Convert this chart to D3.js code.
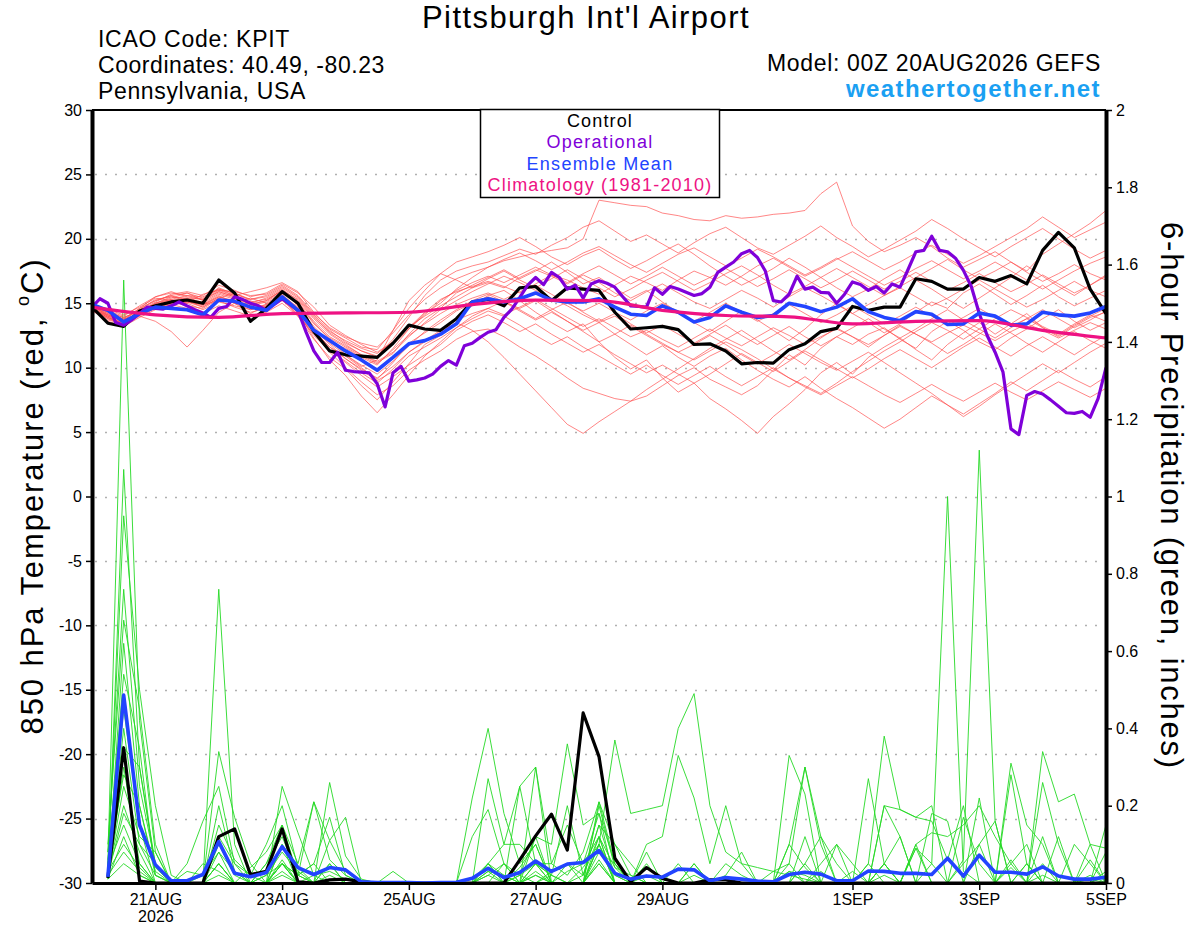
<!DOCTYPE html>
<html>
<head>
<meta charset="utf-8">
<script src="https://cdn.jsdelivr.net/npm/d3@7"></script>
<style>
html, body { margin: 0; padding: 0; background: #fff; }
svg { display: block; font-family: "Liberation Sans", Arial, Helvetica, sans-serif; }
</style>
</head>
<body>
<svg id="chart" width="1200" height="927"></svg>
<script>
"use strict";

//
// Data (00Z 20AUG2026 GEFS run, KPIT)
//
var runStart = new Date(Date.UTC(2026, 7, 20, 0));
var runEnd = new Date(Date.UTC(2026, 8, 5, 0));

var tempTicks = [-30, -25, -20, -15, -10, -5, 0, 5, 10, 15, 20, 25, 30];
var prcpTicks = [0, 0.2, 0.4, 0.6, 0.8, 1, 1.2, 1.4, 1.6, 1.8, 2];
var dateTicks = ["2026-08-21", "2026-08-23", "2026-08-25", "2026-08-27", "2026-08-29", "2026-09-01", "2026-09-03", "2026-09-05"];
var dateLabels = ["21AUG", "23AUG", "25AUG", "27AUG", "29AUG", "1SEP", "3SEP", "5SEP"];

// 850 hPa temperature, 6-hourly from 00Z 20AUG (65 values)
var controlTemp = [14.7,13.45,13.2,14.4,14.8,15.1,15.25,15.0,16.8,15.8,13.6,14.6,15.9,15.0,12.8,11.3,11.0,10.9,10.8,11.9,
  13.3,13.0,12.9,13.8,15.1,15.3,14.8,16.2,16.3,15.2,16.2,16.1,16.0,14.3,13.0,13.1,13.2,12.95,11.8,11.85,
  11.3,10.3,10.4,10.35,11.4,11.85,12.8,13.05,14.75,14.45,14.7,14.7,16.9,16.7,16.1,16.1,17.0,16.7,17.15,16.5,
  19.1,20.5,19.3,16.1,14.2];

var meanTemp = [14.9,14.45,13.55,14.2,14.7,14.6,14.5,14.1,15.25,15.15,14.7,14.45,15.5,14.45,12.9,12.1,11.3,10.6,9.8,10.8,
  11.85,12.1,12.6,13.4,15.1,15.35,15.1,15.35,15.8,15.25,15.1,15.1,15.35,14.7,14.15,14.05,14.8,14.3,13.55,13.9,
  14.8,14.3,13.9,14.05,15.0,14.75,14.35,14.7,15.35,14.35,13.9,13.65,14.35,14.15,13.35,13.4,14.25,14.0,13.3,13.4,
  14.3,14.1,14.0,14.25,14.75];

// operational run, 3-hourly (129 values)
var operationalTemp = [14.7,15.35,15.0,13.5,13.3,13.7,14.2,14.7,14.6,14.55,14.8,15.1,14.8,14.5,14.25,13.9,14.6,14.75,15.5,15.3,
  15.0,14.8,14.45,14.9,15.35,14.9,14.45,12.8,11.3,10.4,10.4,11.2,9.8,9.7,9.65,9.6,8.75,6.95,9.6,10.1,
  8.95,9.05,9.2,9.5,10.1,10.55,10.2,11.7,11.9,12.35,12.75,12.95,13.9,14.55,15.45,16.4,17.0,16.45,17.4,17.0,
  16.1,16.4,15.4,16.5,16.75,16.55,16.25,15.5,14.8,14.75,14.7,16.2,15.7,16.3,16.1,15.85,15.6,15.75,16.25,17.4,
  17.8,18.2,18.85,19.1,18.55,17.5,15.2,15.1,15.7,17.1,16.1,16.25,15.85,15.8,15.0,15.7,16.65,16.45,16.0,16.3,
  15.8,16.5,16.25,17.6,19.0,19.1,20.2,19.1,19.0,18.5,17.55,16.3,14.2,12.5,11.2,9.65,5.25,4.8,7.85,8.15,
  7.95,7.5,7.0,6.5,6.45,6.6,6.15,7.6,10.0];

// 1981-2010 climatology, daily at 00Z
var climTemp = [14.7,14.1,13.9,14.2,14.25,14.3,14.9,15.25,15.2,14.45,14.05,13.95,13.4,13.6,13.65,12.9,12.3];

// ensemble members, 6-hourly (65 values each)
var memberTemps = [
  [14.8,14.2,13.6,14.3,15.0,15.4,15.8,15.2,15.9,15.5,14.9,15.2,16.0, 14.8,13.2,12.0,11.5,10.8,10.2,11.5,13.0,14.2,15.0,16.1,17.0,17.8,
   18.3,18.6,18.9,19.1,19.3,20.0,23.0,22.8,22.6,22.5,22.0,21.8,21.5, 21.4,21.8,21.6,21.7,21.9,22.0,22.2,23.5,24.4,21.0,19.8,19.0,19.5,
   20.1,19.4,18.5,17.8,18.4,19.0,18.2,17.5,18.8,19.6,20.4,21.2,22.2],
  [14.6,13.9,13.4,14.1,14.6,15.0,15.3,14.9,15.6,15.0,14.2,14.8,15.5, 14.2,12.5,11.3,10.5,9.6,8.8,9.9,11.2,12.0,12.8,13.5,12.9,12.0,
   10.8,9.5,8.2,6.9,5.6,4.9,5.8,6.6,7.4,7.8,8.6,9.4,10.0, 9.1,8.5,7.9,8.6,9.8,11.0,10.2,11.5,12.4,11.8,12.6,13.1,12.2,
   11.5,12.8,13.6,12.9,12.0,11.4,12.3,13.0,13.8,14.5,13.6,12.9,13.5],
  [14.9,14.0,13.3,14.5,15.2,15.6,15.1,14.7,15.4,15.8,15.2,14.6,15.3, 14.0,12.2,10.8,9.9,8.6,7.5,8.9,10.3,11.8,12.5,13.9,14.8,15.6,
   16.0,15.2,14.3,13.5,12.8,13.4,12.0,10.8,9.9,10.6,9.2,8.1,8.8, 7.6,6.8,5.9,4.9,6.2,7.2,8.3,9.6,10.4,9.5,10.8,11.6,12.3,
   11.4,10.6,11.8,12.7,13.5,12.6,13.4,14.2,13.1,12.5,13.3,14.0,14.6],
  [14.5,14.1,13.8,14.0,13.6,12.8,11.6,12.9,14.3,15.0,15.4,15.0,15.8, 15.1,13.6,12.4,11.7,11.0,10.4,11.1,12.6,13.8,14.6,15.8,16.4,17.0,
   17.6,16.9,17.5,18.2,17.4,16.5,17.0,16.2,15.4,16.0,15.1,14.3,13.5, 12.8,13.6,14.4,13.7,12.9,12.1,13.0,14.1,15.0,14.2,13.5,12.7,13.4,
   14.3,15.1,14.6,15.8,16.5,15.7,14.9,15.6,16.4,15.5,14.8,15.4,16.0],
  [14.7,14.4,13.7,14.6,15.5,15.9,15.5,15.3,16.2,15.7,15.3,15.6,16.3, 15.5,14.1,12.9,12.0,11.3,10.9,12.2,13.9,15.6,16.8,17.5,17.9,18.2,
   18.7,19.2,18.8,19.5,20.1,20.9,21.4,20.6,19.8,20.3,19.6,18.9,19.7, 20.4,20.9,20.1,19.3,18.8,19.5,20.2,21.0,20.1,19.4,18.6,19.2,19.9,
   20.6,21.5,20.8,20.0,19.3,18.6,19.4,20.1,20.8,20.0,19.2,18.5,19.1],
  [14.6,13.8,13.5,14.2,14.9,15.3,15.0,14.5,15.1,14.8,14.5,14.9,15.7, 14.6,12.9,11.6,10.9,10.0,9.1,10.4,11.9,12.7,13.5,14.4,15.0,15.5,
   15.1,14.6,15.2,14.4,13.6,12.9,13.5,12.6,11.8,11.0,11.7,10.8,10.1, 10.9,11.5,10.6,9.8,9.1,8.5,9.3,8.4,7.6,6.9,6.1,5.3,6.0,
   6.9,7.8,7.1,6.4,7.2,8.0,8.9,8.2,9.0,9.8,9.1,8.5,9.3],
  [14.8,14.3,13.9,14.4,15.1,15.7,15.9,15.6,16.4,16.0,15.5,15.8,16.5, 15.8,14.7,13.3,12.5,11.8,11.2,12.0,13.2,14.0,14.8,15.5,16.2,16.6,
   16.2,17.0,17.6,17.1,16.5,17.2,16.6,15.8,15.2,15.9,16.5,15.8,15.1, 14.6,15.3,16.0,15.4,14.7,15.5,16.2,15.6,14.9,14.2,14.9,15.6,16.2,
   15.5,14.8,15.4,16.1,16.8,16.1,15.4,14.7,15.3,16.0,16.7,16.0,15.5],
  [14.5,13.6,13.2,13.9,14.5,14.9,14.6,14.2,14.8,14.4,14.0,14.3,15.0, 14.0,12.6,11.4,10.4,9.4,8.5,9.3,10.2,11.0,11.8,12.9,13.6,14.1,
   13.5,12.8,13.4,12.6,11.9,11.2,11.8,11.0,10.3,9.6,10.2,9.5,8.8, 9.5,10.3,11.1,10.4,9.7,10.5,11.3,10.6,9.9,9.2,9.9,10.7,11.4,
   10.7,10.0,10.8,11.6,12.3,11.6,10.9,11.7,12.4,11.7,11.0,11.8,12.5],
  [14.9,14.5,14.1,14.7,15.4,15.2,15.0,15.7,16.0,15.6,15.9,16.2,16.6, 15.9,14.3,13.0,12.3,11.6,11.4,12.9,14.6,16.0,17.3,18.2,18.6,19.0,
   19.5,20.1,19.4,18.6,18.0,18.7,19.2,18.4,17.7,18.3,19.0,19.6,18.8, 17.9,17.1,16.4,17.0,17.7,18.5,17.8,17.0,16.2,15.5,16.1,16.9,17.6,
   16.8,16.1,15.3,14.6,15.4,16.2,17.0,17.9,17.1,16.3,15.6,16.4,17.2],
  [14.4,13.7,13.4,14.1,14.8,15.1,14.8,14.6,15.3,15.1,14.7,14.5,15.2, 14.3,12.3,10.6,9.4,7.8,6.5,7.9,9.4,10.9,12.0,13.1,14.0,14.6,
   15.2,14.5,13.8,14.5,15.1,14.3,13.6,14.2,13.4,12.7,13.3,12.6,11.9, 12.6,13.3,12.5,11.8,12.5,13.2,12.4,11.7,12.4,13.1,13.8,13.0,12.3,
   13.0,13.8,14.5,13.7,13.0,12.3,13.1,13.8,13.1,12.4,13.2,13.9,14.3],
  [14.7,14.0,13.6,14.3,15.0,15.5,15.4,15.0,15.7,15.3,14.8,15.1,15.9, 15.0,13.5,12.2,11.0,10.1,10.6,12.9,15.2,16.4,17.3,16.8,16.2,16.9,
   17.5,16.8,16.2,16.9,17.6,16.9,16.2,15.5,16.1,16.8,17.4,16.7,16.0, 16.6,17.3,17.9,17.2,16.4,15.7,16.3,17.0,17.7,17.0,16.3,15.6,16.3,
   17.0,17.7,18.4,17.6,16.9,17.5,18.2,17.4,16.7,17.3,18.0,17.3,16.8],
  [14.6,13.9,13.4,14.2,14.7,15.1,15.2,14.8,15.5,15.2,14.6,14.7,15.4, 14.5,13.0,11.8,10.7,9.8,9.0,9.7,10.9,11.6,12.3,13.1,13.8,14.4,
   14.0,13.3,12.5,11.8,12.4,11.6,10.9,10.2,9.5,10.2,9.4,8.7,9.4, 10.1,9.3,8.6,9.3,10.0,9.2,8.5,7.9,8.6,9.3,8.6,7.9,7.3,
   8.0,8.7,8.0,7.4,8.1,8.8,8.1,7.5,8.2,8.9,8.3,7.7,8.4],
  [14.8,14.1,13.7,14.5,15.3,15.5,15.3,15.1,15.8,15.4,14.9,15.2,16.0, 15.0,13.4,12.3,11.6,10.9,10.3,11.4,12.5,13.4,14.2,14.9,15.4,15.8,
   15.3,15.9,16.4,15.7,15.0,14.4,15.0,14.3,13.7,14.4,15.0,14.3,13.6, 14.3,15.0,14.3,13.6,14.2,14.9,14.2,13.5,14.1,14.8,14.1,13.4,14.0,
   14.7,14.0,13.3,13.9,14.6,13.9,13.2,13.8,14.5,13.8,13.1,13.7,14.4],
  [14.7,14.2,13.8,14.6,15.2,15.6,15.8,15.4,16.1,15.8,15.3,15.5,16.2, 15.4,14.0,12.7,11.9,11.3,10.8,11.8,13.0,14.1,15.2,16.0,16.6,17.1,
   16.6,17.2,17.8,17.2,16.6,17.3,17.9,17.2,16.5,17.1,17.8,17.1,16.4, 17.0,17.7,17.0,16.3,16.9,17.6,16.9,16.2,16.8,17.5,16.8,16.1,16.7,
   17.4,16.7,16.0,16.6,17.3,16.6,15.9,16.5,17.2,16.5,15.8,16.4,17.1],
  [14.5,13.8,13.3,14.0,14.6,14.9,15.1,14.9,15.2,14.7,14.3,14.6,15.3, 14.1,12.7,11.2,10.0,8.9,7.9,8.6,9.8,10.6,11.3,12.2,12.8,13.0,
   12.4,11.6,10.9,10.1,9.2,8.4,8.0,7.6,7.4,8.3,9.1,9.9,10.7, 11.5,12.2,12.9,12.1,11.3,10.6,11.4,12.3,13.1,12.4,11.6,12.5,13.3,
   12.6,11.9,11.1,11.8,12.6,13.4,12.7,11.9,11.2,12.0,12.8,12.1,11.5],
  [14.8,14.3,13.9,14.4,15.0,15.3,15.6,15.5,16.1,15.6,15.0,15.4,16.1, 15.2,13.8,12.6,11.8,11.0,10.5,11.2,12.4,13.5,14.5,15.2,15.9,16.5,
   17.1,16.6,16.0,15.4,14.8,14.1,13.5,14.0,13.2,12.5,11.8,11.2,10.6, 11.3,12.0,11.4,10.7,9.9,9.2,8.6,8.0,8.8,9.7,10.5,11.3,12.0,
   12.8,13.5,12.9,12.2,13.0,13.8,14.5,13.9,13.2,12.6,13.4,14.1,13.6],
  [14.6,14.0,13.7,14.3,14.9,15.2,15.4,15.3,15.9,15.5,15.1,15.3,16.0, 15.3,13.9,12.8,12.1,11.5,11.1,12.0,13.1,14.3,15.3,15.9,16.3,16.7,
   16.3,15.8,16.5,17.2,16.8,16.2,15.7,16.4,17.1,16.6,16.0,16.8,17.5, 17.0,16.4,17.1,17.9,18.5,17.8,17.1,17.7,18.4,19.0,18.3,17.6,18.2,
   18.9,19.5,18.8,18.1,18.7,19.4,20.1,20.8,21.7,20.9,20.1,20.7,21.3],
  [14.7,14.1,13.5,14.2,14.8,15.2,15.3,14.9,15.5,15.1,14.6,14.9,15.6, 14.7,13.1,11.9,11.0,10.2,9.5,10.5,11.7,12.8,13.7,14.5,15.2,15.7,
   15.1,14.4,13.7,14.3,13.6,12.8,12.0,12.6,13.3,12.6,11.9,11.2,11.8, 12.5,11.8,11.0,10.3,11.0,11.8,11.1,10.4,9.8,10.5,11.2,10.4,9.6,
   8.8,8.0,7.1,6.2,7.0,7.9,8.7,9.5,10.3,9.6,10.4,11.2,11.9],
  [14.9,14.4,14.0,14.8,15.5,15.8,15.6,15.3,16.0,15.9,15.6,15.7,16.4, 15.6,14.2,13.1,12.4,11.9,11.6,12.7,14.1,15.3,16.2,16.9,17.4,17.8,
   18.4,18.9,18.3,17.6,18.2,18.9,19.4,18.7,18.0,17.4,18.1,18.8,19.3, 18.6,17.9,18.5,19.2,18.6,17.9,17.2,17.8,18.5,17.8,17.1,16.4,17.0,
   17.7,18.3,17.6,16.9,17.5,18.2,17.5,16.8,16.1,16.8,17.5,18.1,18.6],
  [14.6,13.9,13.5,14.1,14.7,15.0,15.2,14.7,15.4,15.0,14.5,14.8,15.5, 14.4,12.8,11.6,10.7,9.9,9.2,10.1,11.2,12.1,12.9,13.7,14.2,14.6,
   14.1,14.7,15.3,14.6,13.9,13.2,13.8,13.1,12.4,12.9,12.2,11.6,12.3, 13.0,12.3,11.7,12.4,13.1,12.5,11.8,12.4,13.0,12.4,11.8,12.5,13.2,
   12.6,12.0,12.7,13.3,12.7,12.1,12.8,13.4,12.9,12.3,12.9,13.5,13.0]
];

// 6-hour precipitation (inches), periods ending 06Z 20AUG .. 00Z 5SEP (64 values)
var controlPrcp = [.013,.35,.005,0,0,0,0,.12, .14,.022,.03,.14,.003,0,.008,.01, .003,0,0,0,0,0,0,0,
  0,0,.06,.122,.178,.085,.44,.327, .064,.003,.04,.012,0,0,.008,.008, 0,0,0,0,0,0,0,0,
  0,0,0,0,0,0,0,0, 0,0,0,0,0,0,0,0];

var meanPrcp = [.016,.486,.15,.047,.006,.006,.022,.107, .025,.016,.027,.094,.04,.022,.04,.034, .003,.001,.001,.001,0,.001,.002,.012,
  .038,.014,.027,.057,.03,.049,.053,.084, .025,.01,.018,.015,.036,.034,.006,.014, .01,.005,.003,.022,.028,.023,.006,.006,
  .031,.03,.025,.025,.022,.064,.018,.072, .028,.028,.023,.042,.018,.01,.01,.015];

var memberPrcps = [
  [.05,1.56,.42,.08,0,0,.02,.12, .05,0,.02,.08,.03,0,0,0, 0,0,0,0,0,0,0,.01, .05,0,0,.02,0,0,.04,.1, .02,0,0,0,0,.05,0,0, 0,0,0,.03,.02,0,0,0, 0,.02,0,0,.05,1.0,.03,0, 0,0,0,.02,0,0,0,0],
  [.02,1.07,.3,.04,0,0,0,.76, .1,0,.02,.05,0,0,.02,0, 0,0,0,0,0,0,0,0, 0,.05,.02,.12,0,0,0,.2, .04,0,0,0,0,0,0,0, 0,0,0,.05,.3,.1,0,0, 0,.05,0,0,0,0,.06,1.12, .16,0,0,0,0,0,0,0],
  [.03,.95,.5,.2,.02,0,0,.34, .17,.05,0,.25,.13,.02,0,0, 0,0,0,0,0,0,0,.22, .4,.18,.05,.1,0,.03,.05,.12, .04,.02,0,0,0,.02,0,.05, .02,0,0,.1,.04,0,0,0, .05,0,0,.09,0,0,0,0, 0,.04,0,0,0,0,0,.03],
  [.08,.76,.25,.05,0,.05,.16,.25, .05,.02,.1,.2,.04,0,.11,.03, 0,0,0,0,0,0,0,0, .27,.1,.25,.3,.05,.02,.08,.21, .1,.02,0,0,.05,0,0,0, 0,0,0,0,.05,.12,.05,0, 0,.2,.19,.17,.2,0,.05,.1, 0,.06,0,.12,0,0,0,.02],
  [.1,.68,.45,.1,0,0,0,.2, .03,0,.05,.15,.05,.21,.06,.02, 0,0,0,0,0,0,0,.12, .19,.05,0,.12,.1,.36,.15,.18, .05,0,.02,0,0,0,0,0, 0,0,0,.33,.23,0,0,0, 0,0,0,0,0,0,0,.22, 0,0,.05,0,0,0,.01,0],
  [.02,.62,.2,.02,0,0,0,.05, 0,0,0,.1,.02,0,.26,.07, .01,0,0,0,0,0,0,0, .05,.1,.1,.05,.02,.2,.02,.15, .1,.05,0,0,0,0,0,0, 0,0,0,.03,0,0,0,0, .05,.38,.19,.17,.16,.06,.2,0, 0,.31,.15,.1,0,0,.1,0],
  [.04,.54,.35,.02,0,0,.05,.03, 0,.04,.08,.15,.02,.21,.11,.17, 0,0,.03,0,0,0,0,0, .03,.02,0,.3,0,.05,0,.1, .37,.18,.19,.2,.4,.49,.2,.08, .05,.04,.03,.02,.01,0,0,0, 0,.05,.12,0,0,0,0,.1, .16,0,0,.34,.21,.23,.1,.09],
  [.06,.45,.15,0,0,0,0,.1, .02,0,0,.05,0,0,.05,0, 0,0,0,0,0,0,0,0, .05,0,0,0,.02,0,0,.21, .05,0,.1,.12,.33,.22,.05,.2, .05,0,0,.1,.3,.12,0,0, 0,.2,.12,0,.18,.16,0,0, 0,.28,.05,0,0,0,0,0],
  [.02,.4,.1,.05,0,0,0,0, 0,0,0,0,0,0,0,0, 0,0,0,0,0,0,0,0, .05,.02,0,0,.03,.05,.02,.12, 0,0,0,0,0,0,0,0, 0,0,0,0,0,.03,0,0, .27,.05,0,0,0,0,.17,.05, 0,0,0,.26,.1,0,0,0],
  [.08,.35,.3,.05,0,0,0,.08, 0,0,.05,.12,.02,.05,.17,.02, 0,0,0,0,0,0,0,0, 0,0,.04,.1,0,0,0,.1, 0,0,.08,0,0,0,0,.02, .08,0,.03,.05,0,0,0,0, 0,0,0,.1,.13,.12,.15,.2, .12,.05,0,0,0,0,.02,0],
  [.01,.3,.05,0,0,0,0,.02, 0,0,0,.02,0,.02,.03,.01, 0,0,0,0,0,0,0,0, 0,0,.02,.05,.05,.15,.05,.18, 0,0,0,0,0,0,0,0, 0,0,0,0,.05,0,0,0, 0,0,0,0,0,0,0,0, 0,0,0,0,0,0,0,0],
  [.05,.28,.2,.03,0,0,0,.15, .06,.02,0,.05,0,0,0,0, 0,0,0,0,0,0,0,0, .02,.05,0,.02,0,0,0,0, 0,0,0,0,0,0,0,0, 0,0,0,0,.12,0,0,0, 0,0,0,0,0,0,0,0, 0,0,0,.05,0,0,0,0],
  [.02,.25,.12,.08,0,0,0,0, 0,0,0,.05,.02,.05,0,0, 0,0,0,0,0,0,0,0, .03,0,0,.05,0,0,.02,.15, .02,0,0,0,0,0,0,0, 0,0,0,0,0,0,.1,.05, 0,0,0,.09,.05,0,0,0, 0,0,0,0,0,.1,.05,0],
  [.03,.2,.08,0,0,0,0,.05, 0,0,0,.1,0,0,0,0, 0,0,0,0,0,0,0,0, 0,0,.25,.05,0,0,0,.12, 0,0,0,0,0,0,0,0, 0,0,0,0,0,0,0,0, 0,0,0,0,0,0,0,0, 0,0,.05,0,0,0,0,.15],
  [.02,.18,.1,.02,0,0,0,.05, 0,0,0,.06,0,0,0,0, 0,0,0,0,0,0,0,0, 0,0,0,0,0,0,0,.08, .05,0,0,0,0,0,0,0, 0,0,0,0,0,0,0,0, 0,0,0,0,0,0,0,0, 0,0,0,0,0,0,0,0],
  [.04,.15,.05,0,0,0,0,0, 0,0,0,0,0,0,0,0, 0,0,0,0,0,0,0,0, 0,0,0,0,0,0,0,.05, 0,0,0,0,0,0,0,0, 0,0,0,0,0,0,0,.03, 0,0,0,0,0,0,0,0, 0,0,0,0,0,0,0,0],
  [.01,.12,.02,0,0,0,0,0, 0,0,0,0,0,0,0,0, 0,0,0,0,0,0,0,0, 0,0,0,0,0,0,0,0, 0,0,0,0,0,0,0,0, 0,0,0,0,0,0,0,0, 0,0,0,0,0,0,0,0, 0,0,0,0,0,0,0,0],
  [.03,.1,.04,0,0,.03,.02,.08, .03,0,0,.05,.02,0,.05,0, 0,0,0,0,0,0,0,0, .02,0,0,.05,.02,0,0,.1, 0,0,.05,0,0,.05,0,0, 0,0,0,0,0,.05,.1,0, 0,0,0,0,0,0,0,0, 0,.05,.1,0,0,0,.06,0],
  [.02,.08,.03,0,0,0,0,0, 0,0,0,.03,0,0,0,0, 0,0,0,0,0,0,0,0, 0,0,.02,0,0,0,0,.06, 0,0,0,0,0,0,0,0, 0,0,0,0,0,0,0,0, 0,.05,0,.1,0,0,0,0, 0,0,0,0,0,0,0,.08],
  [.01,.05,.02,0,0,0,0,0, 0,0,0,0,0,0,0,0, 0,0,0,0,0,0,0,0, 0,0,0,.03,0,0,0,.05, 0,0,0,0,0,0,0,0, 0,0,0,0,0,0,0,0, 0,0,0,0,0,0,0,0, 0,0,0,0,.12,0,0,0]
];

//
// Setup
//
var fontFamily = "'Liberation Sans', Arial, Helvetica, sans-serif";
var plot = { left: 92, right: 1106, top: 110, bottom: 883 };
var HOUR = 3600 * 1000;

var colors = {
	member: "#ff4b4b",
	memberPrcp: "#25d925",
	control: "#000000",
	operational: "#7f00d9",
	mean: "#2244ff",
	clim: "#ee1283",
	site: "#1aa0f2"
};

var svg = d3.select("#chart");

var x = d3.scaleUtc().domain([runStart, runEnd]).range([plot.left, plot.right]);
var yTemp = d3.scaleLinear().domain([-30, 30]).range([plot.bottom, plot.top]);
var yPrcp = d3.scaleLinear().domain([0, 2]).range([plot.bottom, plot.top]);

function timeAt(hours) { return new Date(runStart.getTime() + hours * HOUR); }

var line6 = d3.line().x(function(d, i) { return x(timeAt(i * 6)); }).y(function(d) { return yTemp(d); });
var line3 = d3.line().x(function(d, i) { return x(timeAt(i * 3)); }).y(function(d) { return yTemp(d); });
var lineClim = d3.line().x(function(d, i) { return x(timeAt(i * 24)); }).y(function(d) { return yTemp(d); }).curve(d3.curveMonotoneX);
var linePrcp = d3.line().x(function(d, i) { return x(timeAt((i + 1) * 6)); }).y(function(d) { return yPrcp(d); });

// stretch a text to a target width through letter spacing
function fitWidth(sel, target) {
	sel.each(function() {
		var n = this.textContent.length;
		var w = this.getComputedTextLength();
		d3.select(this).attr("letter-spacing", ((target - w) / n).toFixed(2) + "px");
	});
}

//
// Grid
//
svg.append("g")
	.selectAll("line")
	.data(tempTicks.filter(function(d) { return d > -30 && d < 30; }))
	.join("line")
	.attr("x1", plot.left + 3).attr("x2", plot.right - 2)
	.attr("y1", function(d) { return Math.round(yTemp(d)) + 0.5; })
	.attr("y2", function(d) { return Math.round(yTemp(d)) + 0.5; })
	.attr("stroke", "#b0b0b0")
	.attr("stroke-width", 1.5)
	.attr("stroke-dasharray", "2,8");

//
// Series
//
var series = svg.append("g").attr("fill", "none").attr("stroke-linejoin", "round");

series.selectAll(".mprcp")
	.data(memberPrcps)
	.join("path")
	.attr("class", "mprcp")
	.attr("d", linePrcp)
	.attr("stroke", colors.memberPrcp)
	.attr("stroke-width", 0.9);

series.selectAll(".mtemp")
	.data(memberTemps)
	.join("path")
	.attr("class", "mtemp")
	.attr("d", line6)
	.attr("stroke", colors.member)
	.attr("stroke-opacity", 0.8)
	.attr("stroke-width", 0.85);

series.append("path").attr("d", linePrcp(controlPrcp)).attr("stroke", colors.control).attr("stroke-width", 3.2);
series.append("path").attr("d", line6(controlTemp)).attr("stroke", colors.control).attr("stroke-width", 3.2);
series.append("path").attr("d", line3(operationalTemp)).attr("stroke", colors.operational).attr("stroke-width", 3.2);
series.append("path").attr("d", linePrcp(meanPrcp)).attr("stroke", colors.mean).attr("stroke-width", 3.6);
series.append("path").attr("d", line6(meanTemp)).attr("stroke", colors.mean).attr("stroke-width", 3.6);
series.append("path").attr("d", lineClim(climTemp)).attr("stroke", colors.clim).attr("stroke-width", 3.2);

//
// Axes
//
var axLeft = svg.append("g")
	.attr("transform", "translate(" + plot.left + ",0)")
	.call(d3.axisLeft(yTemp).tickValues(tempTicks).tickSize(6).tickSizeOuter(0).tickPadding(4)
		.tickFormat(function(d) { return String(d); }));

var axRight = svg.append("g")
	.attr("transform", "translate(" + plot.right + ",0)")
	.call(d3.axisRight(yPrcp).tickValues(prcpTicks).tickSize(6).tickSizeOuter(0).tickPadding(4)
		.tickFormat(function(d) { return String(+d.toFixed(1)); }));

var axBottom = svg.append("g")
	.attr("transform", "translate(0," + plot.bottom + ")")
	.call(d3.axisBottom(x).tickValues(dateTicks.map(function(s) { return new Date(s + "T00:00:00Z"); }))
		.tickSize(7).tickSizeOuter(0).tickPadding(4)
		.tickFormat(function(d, i) { return dateLabels[i]; }));

[axLeft, axRight, axBottom].forEach(function(ax) {
	ax.selectAll("text").attr("font-family", fontFamily).attr("font-size", 16).attr("fill", "#000");
	ax.selectAll(".tick line").attr("stroke", "#000").attr("stroke-width", 1.5);
	ax.select(".domain").attr("stroke", "#000").attr("stroke-width", 4);
});
axBottom.select(".domain").attr("stroke-width", 3);

// year under the first date label
axBottom.select(".tick text")
	.append("tspan")
	.attr("x", 0)
	.attr("dy", "1.05em")
	.text("2026");

// top frame line
svg.append("line")
	.attr("x1", plot.left).attr("x2", plot.right)
	.attr("y1", plot.top).attr("y2", plot.top)
	.attr("stroke", "#000").attr("stroke-width", 2);

//
// Legend
//
var legend = svg.append("g");
legend.append("rect")
	.attr("x", 480.5).attr("y", 109.5).attr("width", 239).attr("height", 88)
	.attr("fill", "#fff").attr("stroke", "#000").attr("stroke-width", 1.5);

var legendItems = [
	{ text: "Control", color: colors.control, y: 127, w: 66 },
	{ text: "Operational", color: colors.operational, y: 148, w: 107 },
	{ text: "Ensemble Mean", color: colors.mean, y: 170, w: 147 },
	{ text: "Climatology (1981-2010)", color: colors.clim, y: 191, w: 225 }
];
legend.selectAll("text")
	.data(legendItems)
	.join("text")
	.attr("x", 600).attr("y", function(d) { return d.y; })
	.attr("text-anchor", "middle")
	.attr("font-family", fontFamily).attr("font-size", 18)
	.attr("fill", function(d) { return d.color; })
	.text(function(d) { return d.text; })
	.each(function(d) { fitWidth(d3.select(this), d.w); });

//
// Titles
//
var titleSel = svg.append("text")
	.attr("x", 586).attr("y", 28).attr("text-anchor", "middle")
	.attr("font-family", fontFamily).attr("font-size", 31)
	.text("Pittsburgh Int'l Airport");
fitWidth(titleSel, 328);

var headLeft = [
	{ text: "ICAO Code: KPIT", y: 47, w: 192 },
	{ text: "Coordinates: 40.49, -80.23", y: 73, w: 287 },
	{ text: "Pennsylvania, USA", y: 99, w: 208 }
];
svg.append("g").selectAll("text")
	.data(headLeft)
	.join("text")
	.attr("x", 98).attr("y", function(d) { return d.y; })
	.attr("font-family", fontFamily).attr("font-size", 23)
	.text(function(d) { return d.text; })
	.each(function(d) { fitWidth(d3.select(this), d.w); });

var modelSel = svg.append("text")
	.attr("x", 1101).attr("y", 71).attr("text-anchor", "end")
	.attr("font-family", fontFamily).attr("font-size", 23)
	.text("Model: 00Z 20AUG2026 GEFS");
fitWidth(modelSel, 334);

var siteSel = svg.append("text")
	.attr("x", 1101).attr("y", 97).attr("text-anchor", "end")
	.attr("font-family", fontFamily).attr("font-size", 24).attr("font-weight", "bold")
	.attr("fill", colors.site)
	.text("weathertogether.net");
fitWidth(siteSel, 255);

// left axis title with raised degree "o"
var leftTitle = svg.append("text")
	.attr("transform", "translate(43,496) rotate(-90)")
	.attr("text-anchor", "middle")
	.attr("font-family", fontFamily).attr("font-size", 31);
leftTitle.append("tspan").text("850 hPa Temperature (red, ");
leftTitle.append("tspan").attr("font-size", 18).attr("dy", -14).text("o");
leftTitle.append("tspan").attr("dy", 14).text("C)");
fitWidth(leftTitle, 477);

var rightTitle = svg.append("text")
	.attr("transform", "translate(1161,496) rotate(90)")
	.attr("text-anchor", "middle")
	.attr("font-family", fontFamily).attr("font-size", 31)
	.text("6-hour Precipitation (green, inches)");
fitWidth(rightTitle, 548);
</script>
</body>
</html>
